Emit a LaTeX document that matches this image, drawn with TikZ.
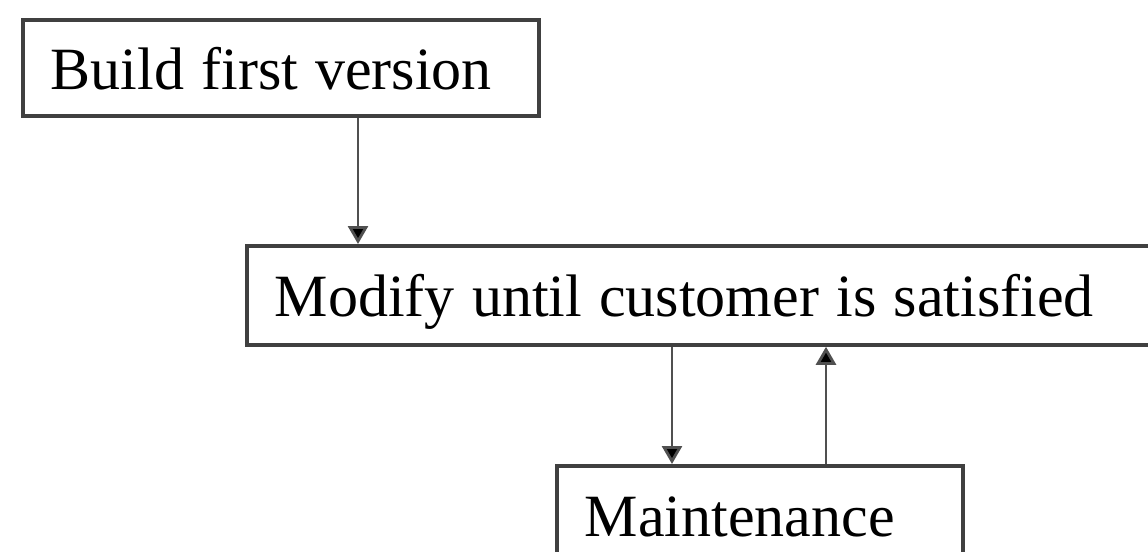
\documentclass[tikz,border=0pt]{standalone}
\usepackage{fontspec}
\setmainfont{Liberation Serif}
\usetikzlibrary{arrows.meta}
\definecolor{boxline}{HTML}{404040}
\definecolor{arrline}{HTML}{505050}
\begin{document}
\begin{tikzpicture}[x=0.5pt,y=-0.5pt,
  procbox/.style={draw=boxline, line width=1.9pt, fill=white, rectangle,
    anchor=north west, align=left, text height=21.3pt, text depth=0pt,
    font=\fontsize{30pt}{36pt}\selectfont,
    execute at begin node={\spaceskip=8.6pt plus 1pt minus 1pt\relax}},
  arr/.style={draw=arrline, line width=1.4pt,
    -{Triangle[length=9pt,width=10pt,fill=black]}}]
\useasboundingbox (0,0) rectangle (1148,552);
\clip (0,0) rectangle (1148,552);
\fill[white] (0,0) rectangle (1148,552);
\node[procbox, inner xsep=14pt, inner ysep=0pt, text width=230pt, minimum height=48pt]
  (b1) at (21,18) {Build first version};
\node[procbox, inner xsep=14pt, inner ysep=0pt, text width=432pt, minimum height=49.5pt]
  (b2) at (245,244) {Modify until customer is satisfied};
\node[procbox, inner xsep=14pt, inner ysep=0pt, text width=175pt, minimum height=49pt]
  (b3) at (555,464) {Maintenance};
\coordinate (x1) at (358,0);
\coordinate (x2) at (672,0);
\coordinate (x3) at (826,0);
\draw[arr] (x1 |- b1.south) -- (x1 |- b2.north);
\draw[arr] (x2 |- b2.south) -- (x2 |- b3.north);
\draw[arr] (x3 |- b3.north) -- (x3 |- b2.south);
\end{tikzpicture}
\end{document}
